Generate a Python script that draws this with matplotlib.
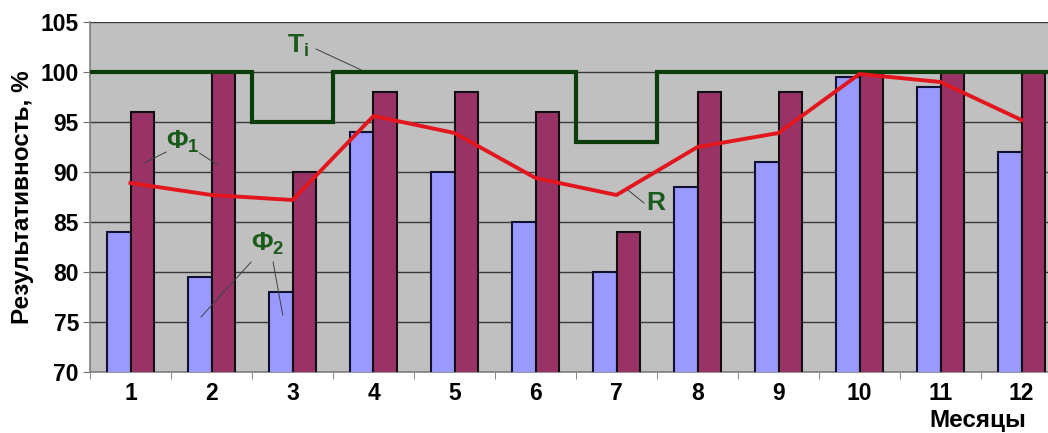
import matplotlib
matplotlib.use("Agg")
import matplotlib.pyplot as plt
import numpy as np

# Результативность по месяцам
months = np.arange(1, 13)
month_labels = [str(m) for m in months]
phi2 = [84, 79.5, 78, 94, 90, 85, 80, 88.5, 91, 99.5, 98.5, 92]      # Ф2 (голубые)
phi1 = [96, 100, 90, 98, 98, 96, 84, 98, 98, 100, 100, 100]         # Ф1 (бордовые)
R = [88.9, 87.7, 87.2, 95.6, 93.9, 89.4, 87.7, 92.5, 93.9, 99.8, 99.0, 95.2]
Ti = [100, 100, 95, 100, 100, 100, 93, 100, 100, 100, 100, 100]
yticks = [70, 75, 80, 85, 90, 95, 100, 105]

plt.rcParams['font.family'] = ['Liberation Sans', 'DejaVu Sans']
plt.rcParams['mathtext.fontset'] = 'custom'
plt.rcParams['mathtext.rm'] = 'Liberation Sans'
plt.rcParams['mathtext.bf'] = 'Liberation Sans:bold'

fig = plt.figure(figsize=(10.48, 4.33), dpi=100)
ax = fig.add_axes([90/1048, 61/433, 972/1048, 350/433])
ax.set_facecolor('#c0c0c0')

w = 0.29
ax.bar(months - w/2, phi2, w, color='#9999ff', edgecolor='#101030', lw=1.5, zorder=3)
ax.bar(months + w/2, phi1, w, color='#993366', edgecolor='#101010', lw=1.5, zorder=3)

edges = np.arange(0.5, 13.5, 1)
ax.stairs(Ti, edges, baseline=None, color='#0b3d0b', lw=3, zorder=5)
ax.plot(months, R, color='#e3161e', lw=2.8, zorder=6)

ax.set_xlim(0.5, 12.5)
ax.set_ylim(70, 105)
ax.set_yticks(yticks)
ax.set_yticklabels([str(v) for v in yticks], fontsize=16.5, fontweight='bold')
ax.set_xticks(months)
ax.set_xticklabels(month_labels, fontsize=16.5, fontweight='bold')
ax.set_xticks(edges, minor=True)
ax.tick_params(axis='x', which='major', length=0, pad=7)
ax.tick_params(axis='x', which='minor', length=5, color='#707070')
ax.tick_params(axis='y', length=5, color='#707070', pad=3)
ax.grid(axis='y', color='#3a3a3a', lw=1, zorder=1)
ax.set_axisbelow(True)
for s in ['top', 'right']:
    ax.spines[s].set_visible(False)
for s in ['left', 'bottom']:
    ax.spines[s].set_color('#808080')
    ax.spines[s].set_linewidth(1.2)

ax.set_ylabel('Результативность, %', fontsize=17.5, fontweight='bold', labelpad=5)
fig.text(1026/1048, 1 - 421/433, 'Месяцы', fontsize=17.5, fontweight='bold',
         ha='right', va='center')

green = '#1a5a1a'
lead = dict(color='#404040', lw=0.7)
ax.text(3.07, 102.6, r'$\mathbf{T_i}$', color=green, fontsize=19, ha='center', va='center', zorder=8)
ax.plot([3.29, 3.85], [102.3, 100.2], **lead, zorder=7)

ax.text(1.65, 93.0, r'$\mathbf{\Phi_1}$', color=green, fontsize=19, ha='center', va='center', zorder=8)
ax.plot([1.44, 1.17], [92.0, 90.9], **lead, zorder=7)
ax.plot([1.85, 2.08], [91.9, 90.7], **lead, zorder=7)

ax.text(2.69, 82.8, r'$\mathbf{\Phi_2}$', color=green, fontsize=19, ha='center', va='center', zorder=8)
ax.plot([2.49, 1.87], [81.0, 75.5], **lead, zorder=7)
ax.plot([2.76, 2.88], [81.0, 75.7], **lead, zorder=7)

ax.text(7.49, 86.9, 'R', color=green, fontsize=19, fontweight='bold', ha='center', va='center', zorder=8)
ax.plot([7.14, 7.34], [88.2, 86.9], **lead, zorder=7)

fig.savefig('out.png', dpi=100)
